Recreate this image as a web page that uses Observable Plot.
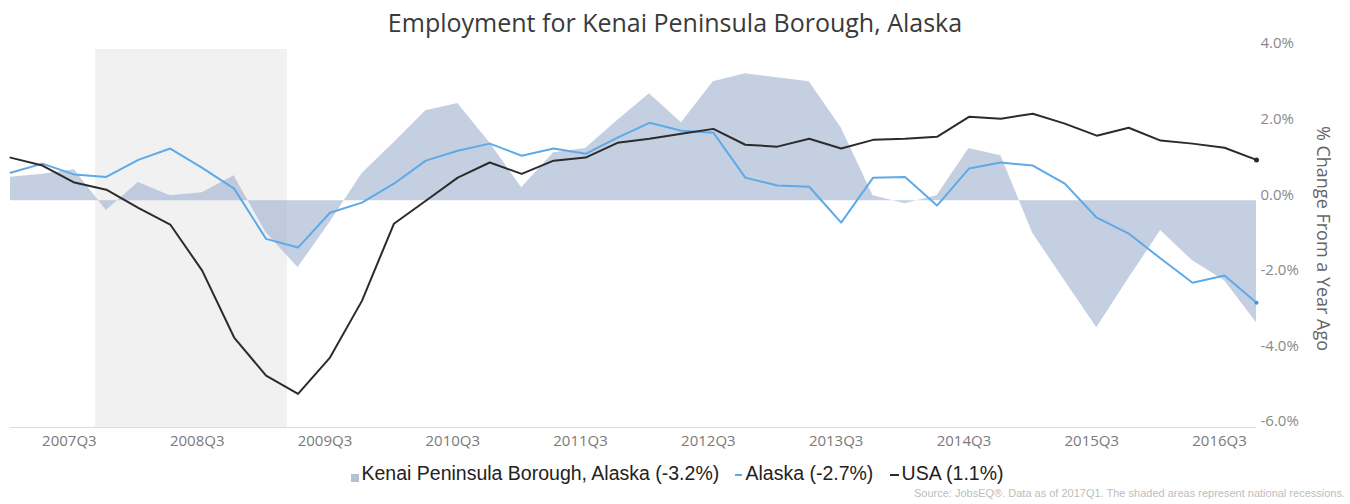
<!DOCTYPE html>
<html><head><meta charset="utf-8">
<script src="https://cdn.jsdelivr.net/npm/d3@7"></script>
<script src="https://cdn.jsdelivr.net/npm/@observablehq/plot@0.6"></script>
<style>
body{margin:0;background:#fff;width:1350px;height:504px;overflow:hidden;position:relative;font-family:"Open Sans",sans-serif;}
#title{height:28px;text-align:center;font-size:25px;color:#3a3a3a;line-height:44px;white-space:nowrap;position:relative;z-index:1;}
#chart{height:432px;}
#legend{height:26px;line-height:26px;text-align:center;font-family:"Liberation Sans",Arial,sans-serif;font-size:19.5px;color:#222;padding-left:4px;white-space:nowrap;}
#legend .sw{display:inline-block;vertical-align:middle;margin-right:3px;}
#source{position:absolute;right:5px;top:487px;font-family:"Liberation Sans",Arial,sans-serif;font-size:11px;color:#bdbdbd;white-space:nowrap;}
</style></head><body>
<div id="title">Employment for Kenai Peninsula Borough, Alaska</div>
<div id="chart"></div>
<div id="legend"></div>
<div id="source">Source: JobsEQ®. Data as of 2017Q1. The shaded areas represent national recessions.</div>
<script>
const quarters = ["2007Q1","2007Q2","2007Q3","2007Q4","2008Q1","2008Q2","2008Q3","2008Q4",
  "2009Q1","2009Q2","2009Q3","2009Q4","2010Q1","2010Q2","2010Q3","2010Q4",
  "2011Q1","2011Q2","2011Q3","2011Q4","2012Q1","2012Q2","2012Q3","2012Q4",
  "2013Q1","2013Q2","2013Q3","2013Q4","2014Q1","2014Q2","2014Q3","2014Q4",
  "2015Q1","2015Q2","2015Q3","2015Q4","2016Q1","2016Q2","2016Q3","2016Q4"];
const kenai = [0.62,0.70,0.82,-0.26,0.48,0.13,0.21,0.66,-0.85,-1.77,-0.58,0.71,1.53,2.38,2.57,1.53,
  0.34,1.27,1.38,2.12,2.83,2.06,3.15,3.36,3.25,3.15,1.93,0.13,-0.08,0.13,1.38,1.19,
  -0.87,-2.12,-3.36,-2.06,-0.79,-1.59,-2.12,-3.23];
const alaska = [0.74,0.98,0.69,0.63,1.08,1.38,0.87,0.32,-1.01,-1.24,-0.32,-0.05,0.45,1.06,1.32,1.51,
  1.19,1.38,1.24,1.67,2.06,1.85,1.80,0.61,0.40,0.37,-0.58,0.61,0.63,-0.13,0.85,1.01,
  0.93,0.45,-0.45,-0.87,-1.53,-2.17,-1.98,-2.70];
const usa = [1.14,0.93,0.48,0.29,-0.19,-0.63,-1.85,-3.62,-4.63,-5.11,-4.15,-2.65,-0.61,0.00,0.61,1.01,
  0.71,1.06,1.14,1.53,1.64,1.77,1.90,1.48,1.43,1.64,1.38,1.61,1.64,1.69,2.22,2.17,
  2.30,2.04,1.72,1.93,1.59,1.51,1.40,1.08];
const xTickLabels = ["2007Q3","2008Q3","2009Q3","2010Q3","2011Q3","2012Q3","2013Q3","2014Q3","2015Q3","2016Q3"];
const yTicks = [-6,-4,-2,0,2,4];
const recessionStart = ["2007-12"];
const recessionEnd = ["2009-06"];
const legendNames = ["Kenai Peninsula Borough, Alaska (-3.2%)","Alaska (-2.7%)","USA (1.1%)"];
const colors = {kenai:"#9fb3d1", alaska:"#5ea9e6", usa:"#2b2b2b", recession:"#f1f1f1"};

// month position -> quarter index (quarter points sit at quarter end)
const monthIdx = s => { const [y,m] = s.split("-").map(Number); return ((y-2007)*12 + (m-1) - 3)/3; };
const recessions = recessionStart.map((s,k)=>({x1: monthIdx(s), x2: monthIdx(recessionEnd[k])}));
const data = quarters.map((q,i)=>({i, q, kenai:kenai[i], alaska:alaska[i], usa:usa[i]}));
const last = data[data.length-1];

const chart = Plot.plot({
  width: 1350, height: 432,
  marginLeft: 10, marginRight: 94, marginTop: 21, marginBottom: 33,
  style: {fontFamily: "'Open Sans', sans-serif", background: "transparent"},
  x: {domain: [0, quarters.length-1]},
  y: {domain: [-6, 4]},
  marks: [
    Plot.rect(recessions, {x1: "x1", x2: "x2", fill: colors.recession}),
    Plot.areaY(data, {x: "i", y: "kenai", fill: colors.kenai, fillOpacity: 0.62}),
    Plot.ruleY([-6], {stroke: "#dcdcdc"}),
    Plot.line(data, {x: "i", y: "alaska", stroke: colors.alaska, strokeWidth: 2}),
    Plot.line(data, {x: "i", y: "usa", stroke: colors.usa, strokeWidth: 2}),
    Plot.dot([last], {x: "i", y: "usa", r: 2.5, fill: colors.usa}),
    Plot.dot([last], {x: "i", y: "alaska", r: 2, fill: "#4a8fc8"}),
    Plot.axisX({ticks: xTickLabels.map(l => quarters.indexOf(l)), tickFormat: i => quarters[i],
      tickSize: 0, tickPadding: 8, dx: -5, fontSize: 15, fill: "#7a7a7a", label: null}),
    Plot.axisY({anchor: "right", ticks: yTicks, tickFormat: d => d.toFixed(1) + "%",
      tickSize: 0, tickPadding: 4, dy: -6, fontSize: 15, fill: "#8a8a8a", label: null}),
    Plot.text(["% Change From a Year Ago"], {frameAnchor: "right", textAnchor: "middle", rotate: 90, dx: 66, fontSize: 18, fill: "#666"})
  ]
});
document.getElementById("chart").appendChild(chart);

const lg = document.getElementById("legend");
const sw = [
  `<span class="sw" style="width:8px;height:8px;background:#b4c2d6;margin-top:6px"></span>`,
  `<span class="sw" style="width:7px;height:2px;background:${colors.alaska}"></span>`,
  `<span class="sw" style="width:9px;height:2px;background:${colors.usa}"></span>`
];
lg.innerHTML = legendNames.map((n,k)=>`${sw[k]}${n}`).join("&nbsp;&nbsp; ");
</script>
</body></html>
